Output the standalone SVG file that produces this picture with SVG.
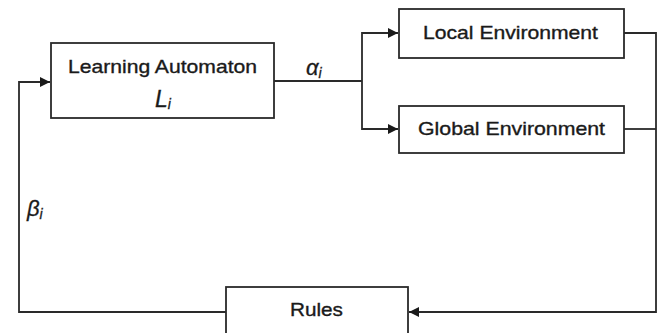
<svg xmlns="http://www.w3.org/2000/svg" width="664" height="333" viewBox="0 0 664 333">
<style>
.box{fill:#fff;stroke:#2a2a2a;stroke-width:1.8}
.ln{fill:none;stroke:#2a2a2a;stroke-width:1.8}
.t{font-family:"Liberation Sans",Arial,sans-serif;font-size:18.5px;fill:#1a1a1a;stroke:#1a1a1a;stroke-width:0.35}
.m{font-family:"Liberation Sans",Arial,sans-serif;font-style:italic;fill:#1a1a1a;stroke:#1a1a1a;stroke-width:0.3}
</style>
<defs>
<marker id="ah" viewBox="0 0 10 10" refX="10" refY="5" markerWidth="10" markerHeight="10" markerUnits="userSpaceOnUse" orient="auto">
<path d="M0,0 L10,5 L0,10 z" fill="#1a1a1a"/>
</marker>
</defs>
<rect width="664" height="333" fill="#fff"/>
<g id="connectors">
<path class="ln" d="M274,81 H362"/>
<path class="ln" d="M362,81 V33 H398" marker-end="url(#ah)"/>
<path class="ln" d="M362,81 V129 H398" marker-end="url(#ah)"/>
<path class="ln" d="M624,33 H656 V312 H409" marker-end="url(#ah)"/>
<path class="ln" d="M624,129 H656"/>
<path class="ln" d="M226,312 H19 V82 H50" marker-end="url(#ah)"/>
<text class="m" x="306" y="75" font-size="22">α<tspan font-size="14" dy="3">i</tspan></text>
<text class="m" x="27" y="216" font-size="22">β<tspan font-size="14" dy="3">i</tspan></text>
</g>
<g id="learning-automaton">
<rect class="box" x="51" y="43" width="223" height="75"/>
<text class="t" x="68" y="73" textLength="189" lengthAdjust="spacingAndGlyphs">Learning Automaton</text>
<text class="m" x="155" y="107" font-size="23">L<tspan font-size="14" dy="2">i</tspan></text>
</g>
<g id="local-environment">
<rect class="box" x="399" y="9" width="225" height="49"/>
<text class="t" x="423" y="39" textLength="175" lengthAdjust="spacingAndGlyphs">Local Environment</text>
</g>
<g id="global-environment">
<rect class="box" x="399" y="106" width="225" height="47"/>
<text class="t" x="418" y="135" textLength="187" lengthAdjust="spacingAndGlyphs">Global Environment</text>
</g>
<g id="rules">
<rect class="box" x="226" y="287" width="182" height="60"/>
<text class="t" x="290" y="316" textLength="53" lengthAdjust="spacingAndGlyphs">Rules</text>
</g>
</svg>
